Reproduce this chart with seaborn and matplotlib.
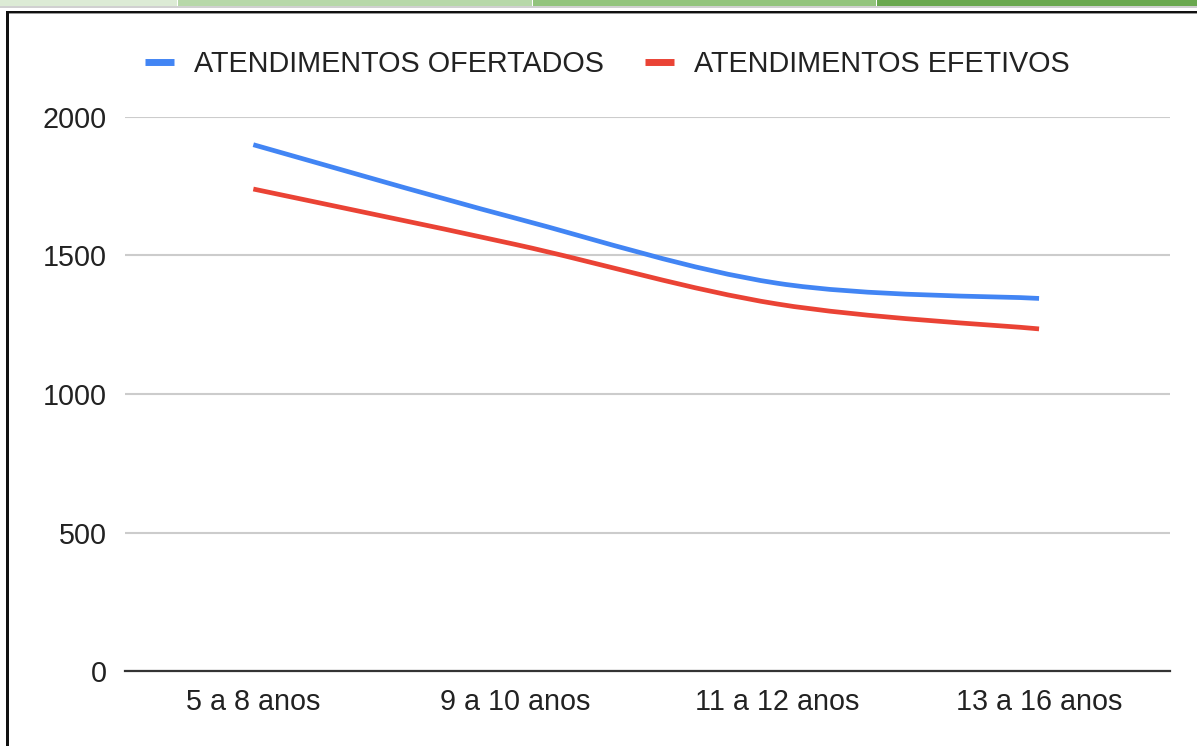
import numpy as np
import pandas as pd
import matplotlib
matplotlib.use("Agg")
import matplotlib.pyplot as plt
from matplotlib.path import Path
from matplotlib.patches import PathPatch, Rectangle
from matplotlib.lines import Line2D
import seaborn as sns

categories = ["5 a 8 anos", "9 a 10 anos", "11 a 12 anos", "13 a 16 anos"]
ofertados = [1900, 1635, 1400, 1345]
efetivos = [1740, 1540, 1325, 1235]
series_names = ["ATENDIMENTOS OFERTADOS", "ATENDIMENTOS EFETIVOS"]
series_colors = ["#4285F4", "#EA4335"]
y_ticks = [0, 500, 1000, 1500, 2000]

df = pd.DataFrame({
    "faixa": categories * 2,
    "valor": ofertados + efetivos,
    "serie": [series_names[0]] * len(categories) + [series_names[1]] * len(categories),
})

sns.set_theme(style="white")
plt.rcParams["font.family"] = ["Liberation Sans", "DejaVu Sans"]

FS = 20.7
W, H = 1197, 746
fig = plt.figure(figsize=(W / 100, H / 100), dpi=100)
ax = fig.add_axes([125 / W, (H - 671) / H, (1170 - 125) / W, (671 - 117) / H])

sns.lineplot(data=df, x="faixa", y="valor", hue="serie", palette=series_colors,
             hue_order=series_names, legend=False, linewidth=3.4, ax=ax, sort=False)

# Replace straight segments with smooth Catmull-Rom bezier curves through the data points
for line in list(ax.lines):
    xy = np.asarray(line.get_xydata(), dtype=float)
    n = len(xy)
    pts = np.vstack([xy[0], xy, xy[-1]])
    verts = [tuple(xy[0])]
    codes = [Path.MOVETO]
    for i in range(n - 1):
        p0, p1, p2, p3 = pts[i], pts[i + 1], pts[i + 2], pts[i + 3]
        c1 = p1 + (p2 - p0) / 6.0
        c2 = p2 - (p3 - p1) / 6.0
        verts += [tuple(c1), tuple(c2), tuple(p2)]
        codes += [Path.CURVE4] * 3
    patch = PathPatch(Path(verts, codes), facecolor="none", edgecolor=line.get_color(),
                      linewidth=line.get_linewidth(), capstyle="butt", joinstyle="round", zorder=3)
    ax.add_patch(patch)
    line.set_visible(False)

ax.set_xlim(-0.49, 3.5)
ax.set_ylim(0, 2000)
ax.set_yticks(y_ticks)
ax.set_yticklabels([str(t) for t in y_ticks])
ax.grid(axis="y", color="#cccccc", linewidth=1.5)
ax.grid(axis="x", visible=False)
for s in ["top", "right", "left"]:
    ax.spines[s].set_visible(False)
ax.spines["bottom"].set_color("#333333")
ax.spines["bottom"].set_linewidth(1.6)
ax.spines["bottom"].set_zorder(4)
ax.tick_params(axis="y", length=0, pad=13, labelsize=FS, labelcolor="#222222")
ax.tick_params(axis="x", length=0, pad=12, labelsize=FS, labelcolor="#222222")
ax.set_xlabel("")
ax.set_ylabel("")

handles = [Line2D([0], [0], color=c, lw=5, solid_capstyle="butt") for c in series_colors]
fig.legend(handles, series_names, loc="center", bbox_to_anchor=(607.5 / W, 1 - 64 / H),
           ncol=2, frameon=False, fontsize=FS, handlelength=1.0, handletextpad=0.7,
           columnspacing=1.45, labelcolor="#222222")

# Screenshot surroundings: spreadsheet tabs strip and the chart border
def px_rect(x0, y0, x1, y1, color):
    fig.patches.append(Rectangle((x0 / W, 1 - y1 / H), (x1 - x0) / W, (y1 - y0) / H,
                                 transform=fig.transFigure, facecolor=color,
                                 edgecolor="none", zorder=10))

px_rect(0, 0, 177, 6, "#dcebd5")
px_rect(178, 0, 532, 6, "#b7d8a9")
px_rect(533, 0, 876, 6, "#93c47d")
px_rect(877, 0, W, 6, "#6aa84f")
px_rect(0, 6, W, 8, "#d0d0d0")
px_rect(6, 11, W, 13, "#111111")
px_rect(6, 13, W, 14, "#999999")
px_rect(6, 11, 9, H, "#111111")

fig.savefig("out.png", dpi=100)
